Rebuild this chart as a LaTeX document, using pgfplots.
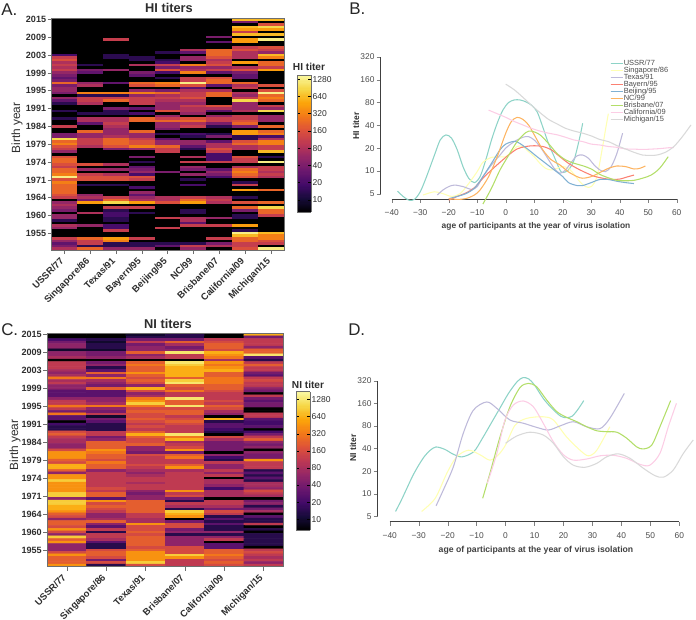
\documentclass[border=0pt]{standalone}
\usepackage{fontspec}
\setmainfont{Liberation Sans}
\usepackage{pgfplots}
\pgfplotsset{compat=1.18}
\definecolor{cUSSR}{HTML}{8DD3C7}
\definecolor{cSing}{HTML}{FFFFB3}
\definecolor{cTex}{HTML}{BEBADA}
\definecolor{cBay}{HTML}{FB8072}
\definecolor{cBei}{HTML}{80B1D3}
\definecolor{cNC}{HTML}{FDB462}
\definecolor{cBris}{HTML}{B3DE69}
\definecolor{cCal}{HTML}{FCCDE5}
\definecolor{cMich}{HTML}{D9D9D9}
\definecolor{axgray}{HTML}{6E6E6E}
\definecolor{txt}{HTML}{2E2E2E}
\pgfplotsset{
 colormap={infernoish}{
  color(0)=(black) 
  rgb255(1)=(22,11,57) rgb255(2)=(66,10,104) rgb255(3)=(106,23,110)
  rgb255(4)=(147,38,103) rgb255(5)=(188,55,84) rgb255(6)=(221,81,58)
  rgb255(7)=(243,120,25) rgb255(8)=(252,165,10) rgb255(9)=(246,215,70)
  rgb255(10)=(250,248,160)},
 heatax/.style={
  scale only axis, anchor=south west, y dir=reverse,
  colormap name=infernoish,
  ymin=-0.5, ymax=90.5, xmin=-0.5,
  enlargelimits=false, axis on top,
  axis line style={color=axgray,line width=0.6pt},
  tick style={color=axgray,line width=0.6pt},
  major tick length=3pt, tick align=outside,
  xtick pos=lower, ytick pos=left,
  ytick={0,7,...,84},
  yticklabels={2015,2009,2003,1999,1995,1991,1984,1979,1974,1971,1964,1960,1955},
  yticklabel style={font=\bfseries\fontsize{6.8pt}{7pt}\selectfont,color=txt,inner sep=1pt},
  xticklabel style={font=\bfseries\fontsize{7.1pt}{8pt}\selectfont,color=txt,rotate=45,anchor=north east,inner sep=1pt,xshift=-3pt,yshift=2.5pt},
 },
 cbarstyle/.style={
  colorbar sampled,
  colorbar style={
   samples=120,
   at={(parent axis.south east)}, anchor=south west,
   scale only axis,
   axis line style={color=axgray,line width=0.6pt},
   tick style={color=black,line width=0.5pt},
   major tick length=2pt, tick align=inside,
   ytick={3.3219,4.3219,5.3219,6.3219,7.3219,8.3219,9.3219,10.3219},
   yticklabels={10,20,40,80,160,320,640,1280},
   yticklabel style={font=\fontsize{6.4pt}{7pt}\selectfont,color=txt,inner sep=1pt},
   ytick pos=both, yticklabel pos=right, xtick=\empty,
  }},
}
\newcommand{\TXT}[4][]{\node[#1] at ({#2*0.75pt},{(619-#3)*0.75pt}) {#4};}
\begin{document}
\begin{tikzpicture}
\path[use as bounding box] (0,0) rectangle (522pt,464.25pt);
% ---------- A
\begin{axis}[heatax, cbarstyle, at={(38.78pt,276.75pt)}, width=174.2pt, height=173.8pt,
 xmax=8.5, xtick={0,...,8},
 xticklabels={USSR/77,Singapore/86,Texas/91,Bayern/95,Beijing/95,NC/99,Brisbane/07,California/09,Michigan/15},
 point meta min=2.63, point meta max=10.57,
 colorbar style={xshift=1.5pt,yshift=28.5pt,width=10.3pt,height=102.75pt}]
\addplot[matrix plot*, mesh/cols=9, mesh/rows=91, mesh/ordering=y varies,
 point meta={ln(\thisrowno{0})/ln(2)}]
 table[row sep=\\, header=false, x expr={floor((\coordindex+0.5)/91)}, y expr={\coordindex-91*floor((\coordindex+0.5)/91)}] {
5\\5\\5\\5\\5\\5\\5\\5\\5\\5\\5\\5\\5\\5\\20\\113\\160\\80\\113\\80\\113\\57\\40\\28\\40\\226\\40\\57\\57\\
40\\5\\57\\28\\14\\5\\5\\14\\5\\5\\14\\5\\5\\113\\5\\5\\40\\40\\905\\226\\320\\160\\113\\57\\5\\160\\226\\226\\160\\113\\226\\
226\\320\\1280\\160\\320\\226\\226\\226\\226\\160\\113\\5\\57\\80\\57\\40\\5\\57\\57\\14\\5\\80\\57\\5\\5\\5\\113\\57\\28\\40\\80\\
5\\5\\5\\5\\5\\5\\5\\5\\5\\5\\5\\5\\5\\5\\5\\5\\5\\5\\14\\5\\40\\28\\5\\5\\5\\57\\80\\5\\5\\
320\\14\\113\\113\\80\\5\\5\\5\\14\\5\\80\\80\\28\\5\\5\\226\\57\\57\\113\\113\\113\\80\\5\\5\\5\\5\\5\\5\\160\\5\\57\\
5\\113\\160\\160\\5\\14\\5\\5\\5\\57\\80\\40\\453\\5\\5\\5\\80\\5\\5\\5\\5\\57\\5\\5\\5\\5\\226\\113\\113\\14\\226\\
5\\5\\5\\5\\5\\5\\5\\5\\113\\5\\5\\5\\5\\5\\14\\14\\5\\5\\5\\5\\57\\5\\5\\5\\5\\28\\5\\5\\5\\
320\\14\\113\\226\\5\\5\\40\\14\\14\\5\\80\\80\\113\\80\\57\\57\\57\\80\\226\\226\\226\\160\\40\\5\\5\\5\\5\\5\\80\\5\\57\\
5\\80\\160\\160\\5\\14\\5\\5\\5\\5\\113\\226\\905\\5\\113\\14\\20\\20\\14\\14\\5\\20\\20\\113\\5\\5\\453\\320\\14\\14\\57\\
5\\5\\5\\5\\5\\5\\5\\5\\5\\5\\5\\5\\5\\5\\5\\14\\14\\5\\80\\5\\5\\40\\28\\5\\5\\226\\160\\5\\57\\
320\\57\\113\\113\\113\\5\\28\\5\\20\\5\\226\\226\\5\\5\\5\\226\\57\\57\\113\\160\\160\\320\\57\\5\\5\\40\\5\\14\\5\\28\\40\\
57\\20\\160\\113\\5\\5\\20\\5\\57\\28\\57\\80\\453\\5\\113\\5\\14\\5\\5\\5\\5\\5\\5\\5\\5\\5\\113\\5\\14\\14\\57\\
5\\5\\5\\5\\5\\5\\5\\5\\5\\5\\5\\5\\5\\14\\5\\5\\14\\20\\113\\40\\160\\20\\5\\14\\5\\320\\226\\5\\40\\
226\\80\\113\\80\\57\\57\\57\\160\\5\\57\\113\\226\\57\\57\\40\\5\\14\\5\\28\\57\\57\\226\\113\\113\\5\\5\\5\\5\\5\\5\\5\\
40\\5\\5\\5\\5\\5\\5\\5\\5\\5\\80\\80\\160\\5\\5\\5\\5\\5\\113\\5\\5\\5\\113\\5\\5\\5\\5\\5\\14\\28\\5\\
5\\5\\5\\5\\5\\5\\5\\5\\5\\5\\5\\5\\80\\28\\5\\57\\57\\5\\320\\57\\80\\320\\5\\113\\113\\1280\\160\\28\\80\\
113\\113\\160\\80\\57\\113\\80\\80\\57\\5\\160\\226\\80\\113\\5\\5\\20\\14\\5\\57\\57\\28\\14\\5\\5\\80\\5\\113\\5\\57\\40\\
5\\57\\5\\14\\5\\20\\5\\5\\5\\5\\113\\226\\453\\5\\5\\14\\14\\5\\80\\80\\28\\113\\5\\5\\5\\5\\5\\5\\14\\113\\57\\
5\\5\\5\\5\\5\\5\\5\\40\\5\\28\\5\\5\\226\\226\\226\\160\\80\\113\\160\\57\\113\\28\\5\\160\\226\\226\\28\\5\\80\\
226\\226\\5\\5\\5\\160\\80\\28\\5\\57\\113\\113\\40\\14\\5\\5\\14\\40\\5\\28\\80\\80\\160\\113\\20\\20\\20\\113\\5\\5\\28\\
57\\40\\20\\5\\5\\5\\5\\5\\5\\5\\80\\113\\80\\5\\5\\5\\5\\5\\57\\5\\5\\113\\5\\5\\5\\5\\113\\5\\40\\80\\5\\
640\\40\\5\\640\\453\\113\\640\\5\\453\\453\\5\\113\\160\\80\\80\\80\\5\\453\\5\\80\\160\\40\\28\\28\\5\\226\\80\\113\\5\\
80\\57\\113\\905\\57\\57\\57\\80\\5\\113\\113\\160\\226\\40\\5\\453\\453\\14\\14\\160\\226\\80\\80\\5\\5\\160\\113\\113\\5\\80\\226\\
320\\226\\160\\5\\14\\113\\5\\453\\5\\5\\14\\5\\160\\5\\226\\40\\5\\14\\14\\5\\5\\453\\5\\14\\1280\\640\\226\\226\\113\\113\\160\\
640\\5\\160\\905\\453\\5\\640\\5\\1280\\5\\5\\160\\113\\57\\640\\320\\5\\226\\226\\113\\453\\5\\5\\5\\5\\5\\160\\5\\160\\
1280\\226\\320\\226\\5\\113\\57\\905\\5\\57\\57\\57\\5\\226\\5\\226\\320\\20\\80\\320\\320\\113\\113\\640\\5\\14\\5\\1280\\5\\113\\113\\
80\\113\\80\\5\\5\\5\\5\\226\\5\\5\\5\\5\\226\\5\\905\\226\\226\\113\\5\\5\\5\\5\\5\\5\\640\\320\\320\\160\\113\\5\\1280\\
};
\end{axis}
% ---------- B
\begin{axis}[scale only axis, anchor=south west, clip=false,
  ymode=log, log basis y=2, ymin=5, ymax=320, xmin=-40, xmax=60,
  axis x line*=bottom, axis y line*=left,
  axis line style={-,color=black!75,line width=0.6pt},
  tick align=outside, major tick length=3pt, minor tick length=0pt,
  xtick={-40,-30,...,60},
  xticklabels={−40,−30,−20,−10,0,10,20,30,40,50,60},
  ytick={5,10,20,40,80,160,320},
  yticklabels={5,10,20,40,80,160,320},
  xticklabel style={font=\fontsize{6.3pt}{7pt}\selectfont,color=black!70,inner sep=1.5pt,yshift=-3.5pt},
  yticklabel style={font=\fontsize{6.3pt}{7pt}\selectfont,color=black!70,inner sep=1.5pt},
  every axis plot/.append style={smooth,line width=0.8pt,mark=none},
 at={(293.8pt,319pt)}, width=213.75pt, height=102.5pt,
 axis x line shift=4pt, axis y line shift=8.25pt,
 legend cell align=left,
 legend image code/.code={\draw[#1] (0pt,0pt)--(7pt,0pt); \path (0pt,0pt)--(9.5pt,0pt);},
 legend style={at={(0.766,0.975)},anchor=north west,draw=none,fill=none,
  font=\fontsize{5.6pt}{6pt}\selectfont\color{black!70},row sep=0pt,
  inner sep=0pt,outer sep=0pt,
  nodes={inner sep=0pt,text height=4.1pt,text depth=1.1pt}}]
\addplot[cUSSR] coordinates {(-38,5.4)(-36,4.6)(-34,4.1)(-32,4.2)(-30,5.3)(-28,8)(-25,16.2)(-23,25.6)(-21,29.9)(-19,27)(-17,18.9)(-15,11.4)(-13,8)(-11,7)(-9,8.4)(-7,14)(-5,25.6)(-3,42.6)(-1,63.7)(1,80)(3,86.6)(5,86.6)(7,82)(9,74)(11,60.6)(13,38)(15,23)(17,15.4)(19,10.3)(20,9.5)(22,10.3)(24,14)(26,28)(27,42.6)};
\addplot[cSing] coordinates {(-29,4.8)(-25,5.3)(-22,5)(-19,4.6)(-16,5)(-13,6.8)(-10,9.8)(-8,13)(-5,15.1)(-3,15.4)(0,15.4)(2,18)(4,21)(6,21)(8,18)(10,15.4)(12,12.6)(14,10.8)(16,10.3)(18,10.8)(20,11.4)(22,10.8)(24,9)(26,7.2)(28,6.2)(30,6.2)(32,8.4)(34,21)(35,35)(36,57)};
\addplot[cTex] coordinates {(-24,4.8)(-22,5.6)(-20,6.2)(-18,6.5)(-15,6.2)(-12,5.7)(-10,6.2)(-8,8.4)(-5,12)(-2,16.2)(0,20)(3,24.4)(6,27.8)(8,28.4)(10,25.6)(12,21)(14,16.2)(17,10.8)(19,9.3)(21,10.3)(23,13)(25,15.8)(27,16.2)(29,14.7)(31,12)(33,10.3)(35,9.8)(37,11.4)(39,17)(41,31.5)};
\addplot[cBay] coordinates {(-20,4.1)(-17,4.6)(-14,5.1)(-11,6)(-8,8)(-5,10.3)(-2,13)(1,16.2)(4,19.5)(7,21)(10,21.5)(13,21)(16,19)(19,15.4)(22,12.6)(25,10.8)(28,9.5)(31,8.5)(34,8)(37,7.7)(40,7.8)(43,8.4)(45,8.8)};
\addplot[cBei] coordinates {(-20,4.3)(-17,4.6)(-14,5)(-11,5.9)(-8,8.4)(-5,12.6)(-2,19)(0,22.6)(3,24.6)(5,23)(8,19)(11,15.4)(14,12.6)(17,10.3)(20,8.4)(22,7)(25,6.4)(27,6.4)(30,7)(33,7.7)(36,7.7)(39,7.3)(42,7)(45,6.8)};
\addplot[cNC] coordinates {(-20,4.3)(-17,4.2)(-14,4.3)(-11,4.8)(-9,5.6)(-6,8.4)(-3,15.4)(0,31.5)(2,45)(4,51)(6,48)(8,40.5)(10,30)(13,19)(16,14)(19,12)(22,9.7)(25,8.4)(27,8)(30,8.4)(33,9.5)(36,10.8)(39,11.6)(42,11.4)(45,10.6)(47,10.8)(49,11.6)};
\addplot[cBris] coordinates {(-8,3.65)(-5,5.9)(-2,10.3)(1,16)(4,24.4)(7,32)(9,33.6)(12,30)(15,23)(18,17)(21,14)(24,12.6)(27,11.7)(30,10.6)(33,9)(36,8.1)(39,7.5)(42,7.4)(45,7.5)(48,8)(51,8.8)(54,10.8)(57,15.4)};
\addplot[cCal] coordinates {(-6,63.5)(-3,57)(0,51)(3,45)(6,40.5)(9,36.5)(12,33.6)(15,31.5)(18,30)(21,27.8)(24,25.6)(27,24.4)(30,22.6)(33,22)(36,21)(39,20.5)(42,19.5)(45,19.4)(48,19.2)(51,19.4)(54,19.7)(57,20.2)(59,20.4)};
\addplot[cMich] coordinates {(0,140)(3,118)(6,94)(9,74)(12,59)(15,48)(18,41.8)(21,36.5)(24,33.6)(27,31.5)(30,29)(33,26)(36,24.4)(39,21.6)(42,19.5)(45,17.6)(48,16.2)(50,16)(53,16.2)(56,17.6)(59,21)(62,28.4)(65,40.5)};
\legend{USSR/77,Singapore/86,Texas/91,Bayern/95,Beijing/95,NC/99,Brisbane/07,California/09,Michigan/15}
\end{axis}
% ---------- C
\begin{axis}[heatax, cbarstyle, at={(35.5pt,39.2pt)}, width=177pt, height=175pt,
 xmax=5.5, xtick={0,...,5},
 xticklabels={USSR/77,Singapore/86,Texas/91,Brisbane/07,California/09,Michigan/15},
 point meta min=2.68, point meta max=10.79,
 colorbar style={xshift=1pt,yshift=27.5pt,width=10.5pt,height=103.7pt}]
\addplot[matrix plot*, mesh/cols=6, mesh/rows=91, mesh/ordering=y varies,
 point meta={ln(\thisrowno{0})/ln(2)}]
 table[row sep=\\, header=false, x expr={floor((\coordindex+0.5)/91)}, y expr={\coordindex-91*floor((\coordindex+0.5)/91)}] {
5\\5\\20\\40\\57\\57\\10\\57\\57\\80\\5\\113\\113\\113\\80\\57\\80\\320\\80\\113\\57\\57\\28\\28\\28\\57\\113\\113\\320\\113\\
40\\320\\28\\28\\5\\20\\14\\14\\160\\226\\113\\80\\80\\57\\57\\160\\453\\453\\453\\226\\160\\640\\640\\226\\57\\453\\453\\905\\453\\453\\453\\
453\\905\\905\\57\\905\\905\\640\\640\\453\\226\\160\\57\\226\\226\\160\\453\\160\\57\\905\\226\\453\\57\\57\\57\\160\\453\\226\\226\\226\\453\\
5\\5\\14\\10\\14\\14\\10\\40\\40\\57\\5\\40\\57\\14\\28\\226\\57\\320\\80\\57\\40\\226\\28\\28\\28\\57\\57\\80\\320\\57\\
40\\113\\10\\40\\28\\14\\14\\14\\113\\113\\40\\57\\226\\226\\226\\453\\320\\226\\226\\160\\320\\226\\226\\57\\113\\113\\113\\113\\113\\113\\160\\
113\\226\\226\\28\\453\\160\\226\\160\\113\\57\\57\\80\\226\\57\\28\\113\\14\\113\\113\\80\\28\\14\\14\\160\\226\\226\\160\\40\\160\\14\\
10\\14\\40\\113\\40\\57\\57\\226\\57\\80\\5\\226\\320\\226\\226\\453\\226\\160\\226\\160\\57\\640\\160\\57\\80\\320\\453\\905\\320\\160\\
226\\160\\160\\226\\160\\113\\160\\113\\226\\640\\226\\160\\160\\226\\57\\57\\40\\160\\113\\113\\113\\160\\113\\80\\57\\80\\113\\113\\80\\113\\113\\
57\\40\\57\\57\\226\\226\\226\\226\\226\\113\\113\\80\\80\\453\\160\\160\\226\\160\\226\\226\\226\\226\\160\\226\\453\\453\\453\\453\\905\\160\\
14\\14\\40\\226\\80\\40\\57\\1280\\113\\113\\5\\1280\\905\\640\\640\\640\\640\\226\\905\\1280\\226\\160\\320\\113\\113\\1280\\226\\226\\1280\\160\\
226\\226\\113\\160\\226\\160\\113\\113\\113\\1280\\320\\640\\80\\113\\160\\453\\40\\226\\320\\113\\113\\226\\453\\80\\113\\113\\113\\113\\113\\113\\113\\
453\\113\\160\\40\\14\\113\\80\\14\\905\\640\\453\\5\\40\\160\\160\\40\\57\\14\\57\\57\\57\\57\\160\\160\\160\\905\\453\\113\\113\\113\\
5\\5\\113\\160\\226\\226\\160\\640\\453\\320\\80\\453\\320\\453\\640\\226\\226\\320\\320\\320\\226\\226\\160\\113\\113\\113\\160\\113\\226\\160\\
80\\57\\5\\640\\14\\28\\28\\20\\14\\5\\160\\80\\40\\40\\40\\40\\5\\57\\20\\14\\113\\57\\57\\113\\57\\113\\5\\80\\80\\57\\20\\
80\\80\\80\\5\\113\\113\\80\\40\\160\\113\\14\\28\\14\\28\\14\\14\\57\\14\\57\\113\\5\\28\\28\\226\\226\\320\\226\\160\\226\\160\\
640\\40\\113\\113\\113\\57\\226\\226\\1280\\28\\14\\113\\226\\113\\113\\40\\28\\113\\160\\113\\113\\57\\40\\5\\113\\40\\28\\40\\40\\5\\
5\\113\\113\\28\\20\\20\\28\\5\\20\\40\\113\\226\\57\\40\\57\\5\\57\\40\\40\\453\\113\\113\\113\\14\\28\\14\\28\\14\\80\\80\\57\\
160\\113\\80\\5\\40\\57\\14\\40\\80\\5\\28\\14\\14\\113\\5\\14\\5\\14\\14\\14\\14\\14\\5\\113\\160\\113\\80\\113\\57\\113\\
};
\end{axis}
% ---------- D
\begin{axis}[scale only axis, anchor=south west, clip=false,
  ymode=log, log basis y=2, ymin=5, ymax=320, xmin=-40, xmax=60,
  axis x line*=bottom, axis y line*=left,
  axis line style={-,color=black!75,line width=0.6pt},
  tick align=outside, major tick length=3pt, minor tick length=0pt,
  xtick={-40,-30,...,60},
  xticklabels={−40,−30,−20,−10,0,10,20,30,40,50,60},
  ytick={5,10,20,40,80,160,320},
  yticklabels={5,10,20,40,80,160,320},
  xticklabel style={font=\fontsize{6.3pt}{7pt}\selectfont,color=black!70,inner sep=1.5pt,yshift=-3.5pt},
  yticklabel style={font=\fontsize{6.3pt}{7pt}\selectfont,color=black!70,inner sep=1.5pt},
  every axis plot/.append style={smooth,line width=0.8pt,mark=none},
 at={(292.3pt,77pt)}, width=217.2pt, height=101.7pt,
 axis x line shift=4pt, axis y line shift=9pt]
\addplot[cUSSR] coordinates {(-38,5.8)(-36,8.2)(-34,12)(-32,17.5)(-30,24)(-28,31.5)(-26,38)(-24,42)(-21,39)(-18,33.5)(-15,31)(-11,36.3)(-8,54.7)(-5,86.6)(-2,137)(1,217)(4,311)(6,352)(8,338)(10,280)(13,186)(16,137)(19,108)(21,103)(23,108)(25,133)(27,174)};
\addplot[cSing] coordinates {(-29,5.8)(-24.3,8.7)(-20.3,18.7)(-16.9,31)(-12.8,38)(-8.8,33)(-5.4,28)(-2.5,33)(0,44.6)(3.3,82)(7.3,101)(13,106)(16.5,96)(21,57.5)(25.7,38)(28.6,32)(31.5,38)(36,78)};
\addplot[cTex] coordinates {(-24,6.9)(-21.5,11.2)(-18,23)(-14.6,64)(-11.1,130)(-6.5,167)(-3,137)(1.5,96)(6.1,87)(10.7,76.6)(14.8,70.6)(18.8,80)(23.4,91)(28,78)(32.6,73.6)(36,101)(41,217)};
\addplot[cBris] coordinates {(-7.9,8.7)(-5.4,18.7)(-1.9,57.5)(1.5,144)(5,260)(7.9,295)(10.7,267)(14.2,177)(17.7,124)(21.1,104)(24.6,91)(28,78)(31.5,69)(34.9,67)(38.4,66)(41.8,55)(45.3,42)(47.6,39.5)(50.5,44.6)(53.3,78)(57,174)};
\addplot[cCal] coordinates {(-6.3,13.8)(-3,34.5)(-0.2,96)(2.7,152)(6.1,172)(9.6,144)(13,87)(16.5,49.3)(20,33)(23.4,28)(28,29)(32.6,32)(37.2,32.5)(41.8,29.6)(46.4,24.6)(49.8,24)(53.3,34.5)(56.2,78)(59,160)};
\addplot[cMich] coordinates {(0,47)(3.8,58.6)(8.4,66)(13,60.6)(16.5,47)(20,31)(23.4,24)(27.4,22.5)(31.5,25.4)(34.9,31)(38.9,34)(43,29.6)(47.6,21.8)(51.6,17.4)(54.5,16.6)(57.9,20.7)(61.4,34.5)(64.8,52)};
\end{axis}
% ---------- text
\TXT[anchor=west,font=\fontsize{12.7pt}{14pt}\selectfont,color=black!85,inner sep=0pt]{1}{10}{A.}
\TXT[anchor=west,font=\fontsize{12.7pt}{14pt}\selectfont,color=black!85,inner sep=0pt]{349}{9}{B.}
\TXT[anchor=west,font=\fontsize{12.7pt}{14pt}\selectfont,color=black!85,inner sep=0pt]{1}{330}{C.}
\TXT[anchor=west,font=\fontsize{12.7pt}{14pt}\selectfont,color=black!85,inner sep=0pt]{348}{330}{D.}
\TXT[font=\bfseries\fontsize{9.6pt}{10pt}\selectfont,color=txt]{169}{8}{HI titers}
\TXT[font=\bfseries\fontsize{9.6pt}{10pt}\selectfont,color=txt]{168}{324}{NI titers}
\TXT[font=\bfseries\fontsize{7.6pt}{8pt}\selectfont,color=txt]{309}{67}{HI titer}
\TXT[font=\bfseries\fontsize{7.6pt}{8pt}\selectfont,color=txt]{308}{385}{NI titer}
\TXT[rotate=90,font=\fontsize{8.9pt}{9pt}\selectfont,color=txt]{17}{128}{Birth year}
\TXT[rotate=90,font=\fontsize{8.9pt}{9pt}\selectfont,color=txt]{15}{445}{Birth year}
\TXT[rotate=90,font=\bfseries\fontsize{6.4pt}{7pt}\selectfont,color=txt]{356}{126}{HI titer}
\TXT[rotate=90,font=\bfseries\fontsize{6.4pt}{7pt}\selectfont,color=txt]{353}{448}{NI titer}
\TXT[font=\bfseries\fontsize{6.3pt}{7pt}\selectfont,color=black!75]{536}{226}{age of participants at the year of virus isolation}
\TXT[font=\bfseries\fontsize{6.5pt}{7pt}\selectfont,color=black!75]{536}{550}{age of participants at the year of virus isolation}
\end{tikzpicture}
\end{document}
